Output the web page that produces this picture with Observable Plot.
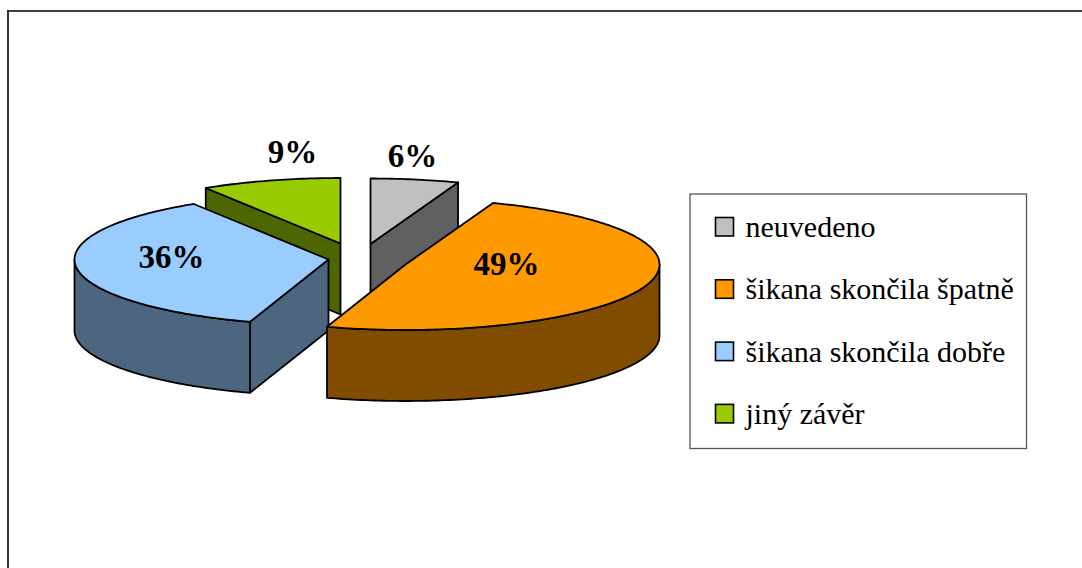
<!DOCTYPE html>
<html>
<head>
<meta charset="utf-8">
<script src="https://cdn.jsdelivr.net/npm/d3@7"></script>
<script src="https://cdn.jsdelivr.net/npm/@observablehq/plot@0.6"></script>
<style>
html,body{margin:0;padding:0;background:#fff;}
svg{display:block;}
</style>
</head>
<body>
<div id="chart"></div>
<script>
const categories = ["neuvedeno", "šikana skončila špatně", "šikana skončila dobře", "jiný závěr"];
const shares = [5.6, 49.4, 36.1, 8.9];
const topColors = ["#C0C0C0", "#FF9900", "#99CCFF", "#99CC00"];
const sideColors = ["#606060", "#804C00", "#4D6680", "#4D6600"];

// Layout of the exploded 3D pie
const sliceCentersX = [370, 405, 328, 340];
const sliceCentersY = [243.5, 264, 259, 243];
const labelX = [412, 506, 171, 292];
const labelY = [156, 264, 257, 152];
const rx = 254, ry = 65.5, depth = 71;
const drawOrder = [3, 0, 2, 1];

const rad = d => d * Math.PI / 180;
let acc = 0;
const spans = shares.map(s => { const a = acc; acc += s * 3.6; return [a, acc]; });

const faces = [];
function addFace(id, color, pts) {
  pts.forEach(([x, y]) => faces.push({id, color, x, y}));
}
function arc(i, a, b, dz) {
  const pts = [], n = Math.max(1, Math.ceil(Math.abs(b - a)));
  for (let k = 0; k <= n; k++) {
    const t = rad(a + (b - a) * k / n);
    pts.push([sliceCentersX[i] + rx * Math.sin(t), sliceCentersY[i] - ry * Math.cos(t) + dz]);
  }
  return pts;
}
for (const i of drawOrder) {
  const [a, b] = spans[i];
  const cx = sliceCentersX[i], cy = sliceCentersY[i];
  const radial = ang => {
    const p = arc(i, ang, ang, 0)[0];
    return [[cx, cy], p, [p[0], p[1] + depth], [cx, cy + depth]];
  };
  if (Math.sin(rad(a)) < -1e-6) addFace(`s${i}`, sideColors[i], radial(a));
  if (Math.sin(rad(b)) > 1e-6) addFace(`e${i}`, sideColors[i], radial(b));
  const lo = Math.max(a, 90), hi = Math.min(b, 270);
  if (hi > lo) addFace(`o${i}`, sideColors[i], [...arc(i, lo, hi, 0), ...arc(i, hi, lo, depth)]);
  addFace(`t${i}`, topColors[i], [[cx, cy], ...arc(i, a, b, 0)]);
}

const labels = categories.map((c, i) => ({text: `${Math.round(shares[i])}%`, x: labelX[i], y: labelY[i]}));
const legendRows = categories.map((c, i) => ({c, color: topColors[i], y: 227 + i * 62.3}));

const chart = Plot.plot({
  width: 1082, height: 568,
  margin: 0,
  style: {background: "#fff"},
  x: {domain: [0, 1082], range: [0, 1082], axis: null},
  y: {domain: [0, 568], range: [0, 568], axis: null},
  color: {type: "identity"},
  marks: [
    // outer frame
    Plot.ruleY([10.5], {x1: 7, x2: 1082, stroke: "#000", strokeWidth: 1.6}),
    Plot.ruleX([7.5], {y1: 10, y2: 568, stroke: "#222", strokeWidth: 1.8}),
    // pie faces
    Plot.line(faces, {
      x: "x", y: "y", z: "id", fill: "color", stroke: "#000",
      strokeWidth: 1.8, curve: "linear-closed", strokeLinejoin: "round"
    }),
    // percent labels
    Plot.text(labels, {
      x: "x", y: "y", text: "text", fill: "#000",
      fontFamily: "Liberation Serif", fontWeight: "bold", fontSize: 33,
      style: {letterSpacing: "-1.2px"}
    }),
    // legend
    Plot.rect([0], {x1: 690, x2: 1026.5, y1: 194, y2: 448.5, fill: "#fff", stroke: "#555", strokeWidth: 1.3}),
    Plot.rect(legendRows, {
      x1: () => 715.5, x2: () => 733.5,
      y1: d => d.y - 9.5, y2: d => d.y + 9,
      fill: "color", stroke: "#000", strokeWidth: 1.6
    }),
    Plot.text(legendRows, {
      x: () => 745, y: "y", text: "c", fill: "#000", textAnchor: "start",
      fontFamily: "Liberation Serif", fontSize: 30,
      style: {letterSpacing: "0px"}
    })
  ]
});
document.getElementById("chart").appendChild(chart);
</script>
</body>
</html>
